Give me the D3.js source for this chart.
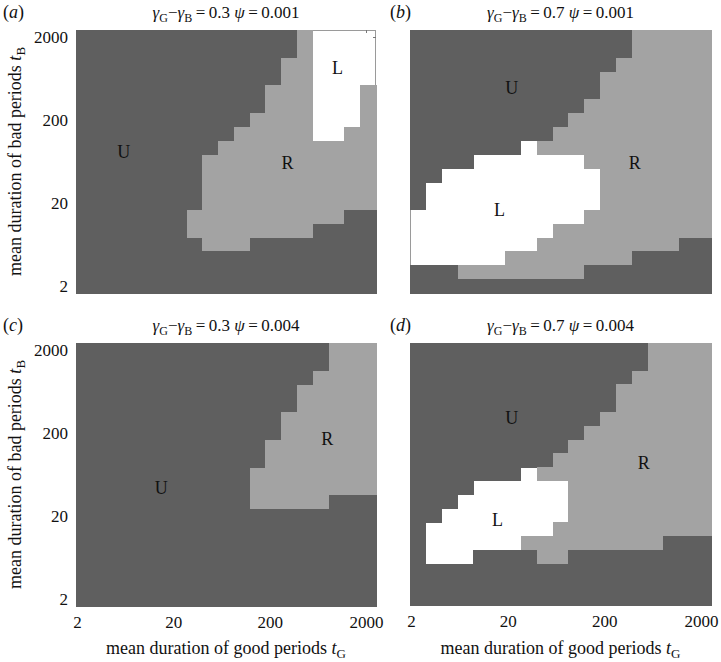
<!DOCTYPE html>
<html>
<head>
<meta charset="utf-8">
<script src="https://cdn.jsdelivr.net/npm/d3@7"></script>
<style>
  body { margin: 0; background: #fff; }
</style>
</head>
<body>
<div id="chart"></div>
<script>
// Region maps: U, R, L
// Each string is one row of the grid, top row = longest bad periods (tB ~ 2000),
// each character is one column, left = shortest good periods (tG ~ 2).
const gridA = [
  "UUUUUUUUUUUUUURLLLL",
  "UUUUUUUUUUUUUURLLLL",
  "UUUUUUUUUUUUURRLLLL",
  "UUUUUUUUUUUUURRLLLL",
  "UUUUUUUUUUUURRRLLLR",
  "UUUUUUUUUUUURRRLLLR",
  "UUUUUUUUUUURRRRLLLR",
  "UUUUUUUUUURRRRRLLRR",
  "UUUUUUUUURRRRRRRRRR",
  "UUUUUUUURRRRRRRRRRR",
  "UUUUUUUURRRRRRRRRRR",
  "UUUUUUUURRRRRRRRRRR",
  "UUUUUUUURRRRRRRRRRR",
  "UUUUUUURRRRRRRRRRUU",
  "UUUUUUURRRRRRRRUUUU",
  "UUUUUUUURRRUUUUUUUU",
  "UUUUUUUUUUUUUUUUUUU",
  "UUUUUUUUUUUUUUUUUUU",
  "UUUUUUUUUUUUUUUUUUU"
];
const gridB = [
  "UUUUUUUUUUUUUURRRRR",
  "UUUUUUUUUUUUUURRRRR",
  "UUUUUUUUUUUUURRRRRR",
  "UUUUUUUUUUUURRRRRRR",
  "UUUUUUUUUUUURRRRRRR",
  "UUUUUUUUUUURRRRRRRR",
  "UUUUUUUUUURRRRRRRRR",
  "UUUUUUUUURRRRRRRRRR",
  "UUUUUUULRRRRRRRRRRR",
  "UUUULLLLLLLRRRRRRRR",
  "UULLLLLLLLLLRRRRRRR",
  "ULLLLLLLLLLLRRRRRRR",
  "ULLLLLLLLLLLRRRRRRR",
  "LLLLLLLLLLLRRRRRRRR",
  "LLLLLLLLLRRRRRRRRRR",
  "LLLLLLLLRRRRRRRRRUU",
  "LLLLLLRRRRRRRRUUUUU",
  "UUURRRRRRRRUUUUUUUU",
  "UUUUUUUUUUUUUUUUUUU"
];
const gridC = [
  "UUUUUUUUUUUUUUUURRR",
  "UUUUUUUUUUUUUUUURRR",
  "UUUUUUUUUUUUUUURRRR",
  "UUUUUUUUUUUUUURRRRR",
  "UUUUUUUUUUUUUURRRRR",
  "UUUUUUUUUUUUURRRRRR",
  "UUUUUUUUUUUUURRRRRR",
  "UUUUUUUUUUUURRRRRRR",
  "UUUUUUUUUUUURRRRRRR",
  "UUUUUUUUUUURRRRRRRR",
  "UUUUUUUUUUURRRRRRRR",
  "UUUUUUUUUUURRRRRUUU",
  "UUUUUUUUUUUUUUUUUUU",
  "UUUUUUUUUUUUUUUUUUU",
  "UUUUUUUUUUUUUUUUUUU",
  "UUUUUUUUUUUUUUUUUUU",
  "UUUUUUUUUUUUUUUUUUU",
  "UUUUUUUUUUUUUUUUUUU",
  "UUUUUUUUUUUUUUUUUUU"
];
const gridD = [
  "UUUUUUUUUUUUUUURRRR",
  "UUUUUUUUUUUUUUURRRR",
  "UUUUUUUUUUUUUURRRRR",
  "UUUUUUUUUUUUURRRRRR",
  "UUUUUUUUUUUUURRRRRR",
  "UUUUUUUUUUUURRRRRRR",
  "UUUUUUUUUUURRRRRRRR",
  "UUUUUUUUUURRRRRRRRR",
  "UUUUUUUUURRRRRRRRRR",
  "UUUUUUULRRRRRRRRRRR",
  "UUUULLLLLLRRRRRRRRR",
  "UUULLLLLLLRRRRRRRRR",
  "UULLLLLLLLRRRRRRRRR",
  "ULLLLLLLLRRRRRRRRRR",
  "ULLLLLLRRRRRRRRRUUU",
  "ULLLUUUURRUUUUUUUUU",
  "UUUUUUUUUUUUUUUUUUU",
  "UUUUUUUUUUUUUUUUUUU",
  "UUUUUUUUUUUUUUUUUUU"
];

const panelLetters = ["a", "b", "c", "d"];
const gammaDiffs = ["0.3", "0.7", "0.3", "0.7"];
const psiValues = ["0.001", "0.001", "0.004", "0.004"];
const tickValues = [2, 20, 200, 2000];

// region label positions, in (tG, tB) units
const labelsA = [{t: "U", tG: 6.1, tB: 82}, {t: "R", tG: 307, tB: 61}, {t: "L", tG: 1012, tB: 845}];
const labelsB = [{t: "U", tG: 22, tB: 484}, {t: "R", tG: 412, tB: 61}, {t: "L", tG: 16.5, tB: 16.5}];
const labelsC = [{t: "U", tG: 15, tB: 43.5}, {t: "R", tG: 792, tB: 169}];
const labelsD = [{t: "U", tG: 22, tB: 300}, {t: "R", tG: 513, tB: 86}, {t: "L", tG: 15.7, tB: 17.5}];

// L cells are left empty so the axes box shows through, as in the original
const regionColor = {U: "#5f5f5f", R: "#a3a3a3", L: "none"};
const FONT = '"Liberation Serif", "Times New Roman", serif';

const width = 721, height = 662;
const svg = d3.select("#chart").append("svg")
  .attr("width", width)
  .attr("height", height);

const panels = [
  {grid: gridA, labels: labelsA, x: 76, y: 30, w: 300, h: 263, left: true, bottom: false},
  {grid: gridB, labels: labelsB, x: 410, y: 30, w: 301, h: 263, left: false, bottom: false},
  {grid: gridC, labels: labelsC, x: 76, y: 343, w: 300, h: 263, left: true, bottom: true},
  {grid: gridD, labels: labelsD, x: 410, y: 343, w: 301, h: 262, left: false, bottom: true}
];

panels.forEach((p, k) => {
  const g = svg.append("g").attr("transform", `translate(${p.x},${p.y})`);
  const nRows = p.grid.length, nCols = p.grid[0].length;

  const col = d3.scaleBand().domain(d3.range(nCols)).range([0, p.w]);
  const row = d3.scaleBand().domain(d3.range(nRows)).range([0, p.h]);

  // log scales for ticks and labels
  const yLog = d3.scaleLog().domain([2, 2000])
    .range([row(nRows - 1) + row.bandwidth() / 2, row(0) + row.bandwidth() / 2]);
  const xLog = d3.scaleLog().domain([2, 2000]).range([1, p.w - 10]);

  // axes box and inward ticks (underneath the cells)
  g.append("rect")
    .attr("x", 0.5).attr("y", 0.5)
    .attr("width", p.w - 1).attr("height", p.h - 1)
    .attr("fill", "#fff")
    .attr("stroke", "#9a9a9a")
    .attr("stroke-width", 1);
  const tk = g.append("g").attr("stroke", "#777").attr("stroke-width", 1);
  tickValues.forEach(v => {
    const xv = Math.round(xLog(v)) + 0.5, yv = Math.round(yLog(v)) + 0.5;
    tk.append("line").attr("x1", xv).attr("x2", xv).attr("y1", 0).attr("y2", 3);
    tk.append("line").attr("x1", xv).attr("x2", xv).attr("y1", p.h).attr("y2", p.h - 3);
    tk.append("line").attr("y1", yv).attr("y2", yv).attr("x1", 0).attr("x2", 3);
    tk.append("line").attr("y1", yv).attr("y2", yv).attr("x1", p.w).attr("x2", p.w - 3);
  });

  const cells = [];
  p.grid.forEach((s, r) => {
    s.split("").forEach((c, i) => cells.push({r, i, c}));
  });

  g.selectAll("rect.cell")
    .data(cells)
    .enter().append("rect")
    .attr("class", "cell")
    .attr("x", d => col(d.i))
    .attr("y", d => row(d.r))
    .attr("width", col.bandwidth() + 0.5)
    .attr("height", row.bandwidth() + 0.5)
    .attr("fill", d => regionColor[d.c])
    .attr("shape-rendering", "crispEdges");

  // region labels
  g.selectAll("text.region")
    .data(p.labels)
    .enter().append("text")
    .attr("class", "region")
    .attr("x", d => xLog(d.tG))
    .attr("y", d => yLog(d.tB))
    .attr("dy", "0.35em")
    .attr("text-anchor", "middle")
    .style("font-family", FONT)
    .style("font-size", "18px")
    .style("fill", "#111")
    .text(d => d.t);

  if (p.left) {
    const ax = g.append("g")
      .call(d3.axisLeft(yLog).tickValues(tickValues).tickFormat(d3.format("d"))
        .tickSize(0).tickPadding(8));
    ax.select(".domain").remove();
    ax.selectAll("text")
      .style("font-family", FONT).style("font-size", "17px").style("fill", "#111");

    const yl = svg.append("text")
      .attr("transform", `translate(21,${p.y + p.h / 2})` + " rotate(-90)")
      .attr("text-anchor", "middle")
      .style("font-family", FONT).style("font-size", "18px").style("fill", "#111");
    yl.append("tspan").text("mean duration of bad periods ");
    yl.append("tspan").style("font-style", "italic").text("t");
    yl.append("tspan").style("font-size", "13px").attr("dy", 4).text("B");
  }

  if (p.bottom) {
    const ax = g.append("g")
      .attr("transform", `translate(0,${p.h})`)
      .call(d3.axisBottom(xLog).tickValues(tickValues).tickFormat(d3.format("d"))
        .tickSize(0).tickPadding(10));
    ax.select(".domain").remove();
    ax.selectAll("text")
      .style("font-family", FONT).style("font-size", "17px").style("fill", "#111");

    const xl = svg.append("text")
      .attr("x", p.x + p.w / 2)
      .attr("y", 654)
      .attr("text-anchor", "middle")
      .style("font-family", FONT).style("font-size", "18px").style("fill", "#111");
    xl.append("tspan").text("mean duration of good periods ");
    xl.append("tspan").style("font-style", "italic").text("t");
    xl.append("tspan").style("font-size", "13px").attr("dy", 4).text("G");
  }

  // panel letter
  const pl = svg.append("text")
    .attr("x", p.left ? 3 : p.x - 20)
    .attr("y", p.y - 12)
    .style("font-family", FONT).style("font-size", "18px").style("fill", "#111");
  pl.append("tspan").text("(");
  pl.append("tspan").style("font-style", "italic").text(panelLetters[k]);
  pl.append("tspan").text(")");

  // title
  const tt = svg.append("text")
    .attr("x", p.x + p.w / 2)
    .attr("y", p.y - 12)
    .attr("text-anchor", "middle")
    .style("font-family", FONT).style("font-size", "17px").style("fill", "#111");
  tt.append("tspan").style("font-style", "italic").text("γ");
  tt.append("tspan").style("font-size", "12px").attr("dy", 4).text("G");
  tt.append("tspan").attr("dy", -4).text("−");
  tt.append("tspan").style("font-style", "italic").text("γ");
  tt.append("tspan").style("font-size", "12px").attr("dy", 4).text("B");
  tt.append("tspan").attr("dy", -4).text("\u2009=\u2009" + gammaDiffs[k] + "  ");
  tt.append("tspan").style("font-style", "italic").text("ψ");
  tt.append("tspan").text("\u2009=\u2009" + psiValues[k]);
});
</script>
</body>
</html>
